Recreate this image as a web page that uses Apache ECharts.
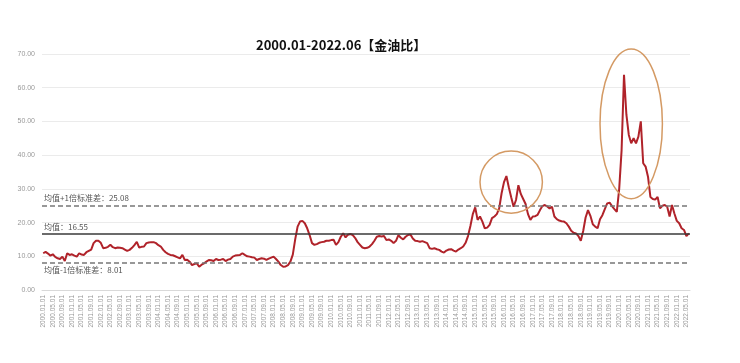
<!DOCTYPE html>
<html><head><meta charset="utf-8">
<script src="https://cdn.jsdelivr.net/npm/echarts@6/dist/echarts.min.js"></script>
<style>html,body{margin:0;padding:0;background:#fff}#c{width:740px;height:363px}</style>
</head><body><div id="c"></div>
<script>
// Monthly gold/oil ratio, 2000.01 - 2022.06
const startYear = 2000, startMonth = 1, monthCount = 270;
const ratio = [
 10.9,11.3,10.8,10.2,10.6,9.8,9.4,9.2,9.9,8.6,10.9,10.4,
 10.6,10.2,9.9,10.9,10.5,10.4,11.2,11.6,12.0,13.9,14.6,14.6,
 14.0,12.4,12.5,12.8,13.4,12.7,12.4,12.6,12.5,12.4,12.0,11.6,
 11.9,12.5,13.3,14.3,12.6,12.8,12.9,13.9,14.1,14.2,14.2,13.9,
 13.3,12.9,11.9,11.2,10.7,10.4,10.3,10.0,9.7,9.4,10.4,8.9,
 9.0,8.4,7.4,7.7,7.9,6.9,7.5,7.9,8.4,8.9,8.8,8.6,
 9.2,8.9,9.0,9.2,8.6,9.0,9.2,9.9,10.2,10.3,10.4,10.9,
 10.4,10.0,9.9,9.7,9.6,8.9,9.2,9.4,9.3,8.9,9.3,9.6,
 9.9,9.2,8.4,7.4,6.9,7.0,7.4,8.4,10.5,15.0,18.8,20.3,
 20.5,19.8,18.3,16.3,13.9,13.4,13.6,14.0,14.2,14.3,14.6,14.6,
 14.8,14.9,13.4,14.2,15.8,16.8,15.6,16.4,16.6,16.3,15.4,14.2,
 13.4,12.6,12.4,12.5,12.9,13.6,14.6,15.8,16.0,15.9,16.0,14.8,
 15.0,14.6,13.9,14.6,16.3,15.5,15.0,15.8,16.3,16.5,15.3,14.6,
 14.5,14.3,14.5,14.2,13.9,12.4,12.2,12.4,12.1,11.9,11.4,11.1,
 11.7,12.0,12.1,11.7,11.4,12.0,12.4,12.9,14.0,16.0,19.0,22.5,
 24.5,20.8,21.8,20.3,18.3,18.5,19.3,21.3,21.8,22.5,24.2,28.7,
 32.0,33.8,30.5,27.5,24.7,26.7,31.1,28.5,27.0,25.5,22.5,20.8,
 21.8,21.9,22.3,23.7,24.9,25.2,24.8,24.2,24.7,21.8,21.0,20.6,
 20.4,20.3,19.8,18.8,17.6,17.0,16.8,16.0,14.6,17.5,21.5,23.7,
 22.0,19.5,18.8,18.3,21.0,22.2,24.0,25.7,25.9,24.9,24.0,23.2,
 30.0,41.5,63.8,52.0,46.0,43.5,45.0,43.5,45.5,50.0,37.6,36.6,
 33.6,27.6,27.0,26.8,27.6,24.2,25.0,25.2,24.7,21.8,25.2,22.7,
 20.5,19.8,18.3,17.8,16.0,16.8
];
const meanValue = 16.55;
const upperBand = 25.08;
const lowerBand = 8.01;
const refLabels = ['均值+1倍标准差：25.08', '均值：16.55', '均值-1倍标准差：8.01'];
const yTicks = [0, 10, 20, 30, 40, 50, 60, 70];
const titleText = '2000.01-2022.06【金油比】';
// highlighted regions: [centerIndex, centerValue, halfWidthMonths, halfHeightValue]
const highlight1 = [195.3, 32.0, 12.5, 9.2];
const highlight2 = [244.5, 49.3, 13.1, 22.2];

const categories = [];
for (let k = 0; k < monthCount; k++) {
  const m = startMonth - 1 + k;
  const y = startYear + Math.floor(m / 12);
  const mm = (m % 12) + 1;
  categories.push(y + '.' + (mm < 10 ? '0' + mm : mm) + '.01');
}

const chart = echarts.init(document.getElementById('c'), null, {renderer: 'canvas'});
const option = {
  animation: false,
  backgroundColor: '#fff',
  title: {
    text: titleText, left: 251, top: 34,
    textStyle: {fontSize: 13, fontWeight: 'bold', color: '#111', fontFamily: 'Noto Sans CJK SC'}
  },
  grid: {left: 42, right: 50, top: 54, bottom: 73, containLabel: false},
  xAxis: {
    type: 'category', data: categories, boundaryGap: true,
    axisLine: {show: true, lineStyle: {color: '#d9d9d9'}},
    axisTick: {show: false},
    axisLabel: {interval: 3, rotate: 90, fontSize: 6.5, color: '#999', margin: 5, fontFamily: 'Liberation Sans'},
    splitLine: {show: false}
  },
  yAxis: {
    type: 'value', min: yTicks[0], max: yTicks[yTicks.length - 1], interval: 10,
    axisLine: {show: false}, axisTick: {show: false},
    axisLabel: {fontSize: 7, color: '#999', margin: 7, formatter: v => v.toFixed(2), fontFamily: 'Liberation Sans'},
    splitLine: {show: true, lineStyle: {color: '#ebebeb', width: 1}}
  },
  series: [{
    type: 'line', data: ratio, symbol: 'none', smooth: false,
    lineStyle: {color: '#b0232a', width: 2},
    z: 3,
    markLine: {
      silent: true, symbol: 'none',
      data: [
        {yAxis: upperBand, lineStyle: {color: '#777', type: [5, 3], width: 1.6},
         label: {formatter: refLabels[0], position: 'insideStartTop'}},
        {yAxis: meanValue, lineStyle: {color: '#3a3a3a', type: 'solid', width: 1.5},
         label: {formatter: refLabels[1], position: 'insideStartTop'}},
        {yAxis: lowerBand, lineStyle: {color: '#777', type: [5, 3], width: 1.6},
         label: {formatter: refLabels[2], position: 'insideStartBottom'}}
      ],
      label: {fontSize: 8, color: '#555', fontFamily: 'Noto Sans CJK SC', distance: [2, 3]}
    }
  }]
};
chart.setOption(option);

function ellipseFor(h) {
  const c = chart.convertToPixel({gridIndex: 0}, [h[0], h[1]]);
  const e = chart.convertToPixel({gridIndex: 0}, [h[0] + h[2], h[1] - h[3]]);
  return {
    type: 'ellipse',
    shape: {cx: c[0], cy: c[1], rx: Math.abs(e[0] - c[0]), ry: Math.abs(e[1] - c[1])},
    style: {fill: 'none', stroke: '#d49a64', lineWidth: 1.5},
    z: 10
  };
}
chart.setOption({graphic: [ellipseFor(highlight1), ellipseFor(highlight2)]});
</script></body></html>
